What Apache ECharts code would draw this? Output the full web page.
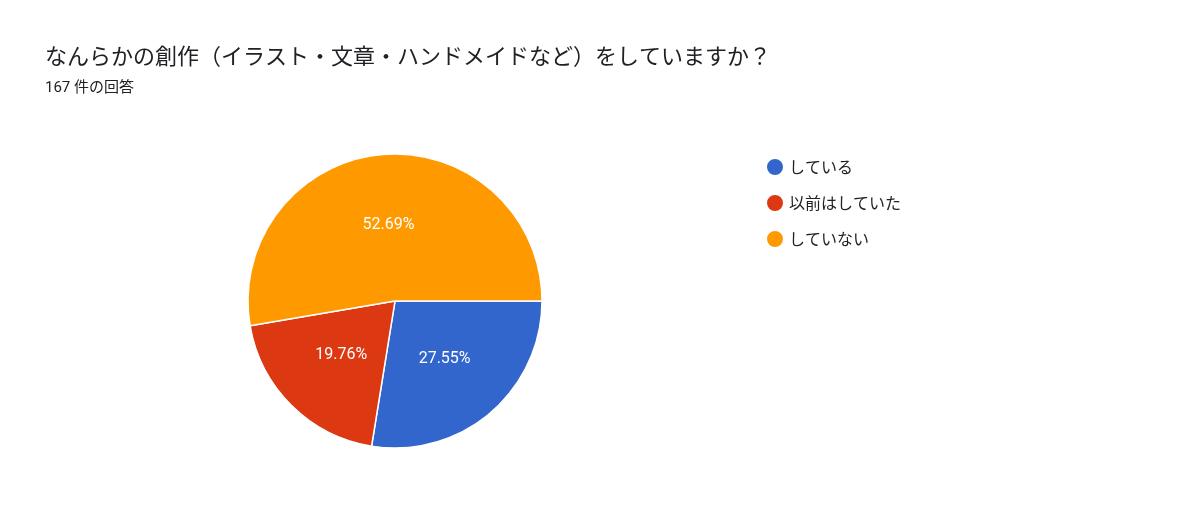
<!DOCTYPE html>
<html><head><meta charset="utf-8">
<script src="https://cdn.jsdelivr.net/npm/echarts@6/dist/echarts.min.js"></script>
<style>html,body{margin:0;padding:0;background:#fff}#c{width:1200px;height:505px}</style>
</head><body><div id="c"></div>
<script>
const categories = ['している', '以前はしていた', 'していない'];
const counts = [46, 33, 88];
const colors = ['#3366cc', '#dc3912', '#ff9900'];
const chart = echarts.init(document.getElementById('c'));
chart.setOption({
  animation: false,
  textStyle: {fontFamily: 'Roboto, "Noto Sans CJK JP", sans-serif'},
  title: {
    text: 'なんらかの創作（イラスト・文章・ハンドメイドなど）をしていますか？',
    subtext: '167 件の回答',
    left: 40, top: 40,
    itemGap: 14,
    textStyle: {fontSize: 22, fontWeight: 'normal', color: '#202124', fontFamily: '"Noto Sans CJK JP", sans-serif'},
    subtextStyle: {fontSize: 15, color: '#202124', fontFamily: 'Roboto, "Noto Sans CJK JP", sans-serif'}
  },
  legend: {
    orient: 'vertical', left: 760, top: 152,
    icon: 'circle', itemWidth: 18, itemHeight: 18, itemGap: 16,
    textStyle: {fontSize: 16, color: '#222', fontFamily: '"Noto Sans CJK JP", sans-serif'},
    data: categories
  },
  color: colors,
  series: [{
    type: 'pie',
    center: [395, 301], radius: 147,
    startAngle: 0, clockwise: true,
    itemStyle: {borderColor: '#fff', borderWidth: 1.5},
    label: {position: 'inner', formatter: '{d}%', color: '#fff', fontSize: 16, fontFamily: 'Roboto, sans-serif'},
    labelLine: {show: false},
    data: categories.map((n, i) => ({name: n, value: counts[i]}))
  }]
});
</script></body></html>
